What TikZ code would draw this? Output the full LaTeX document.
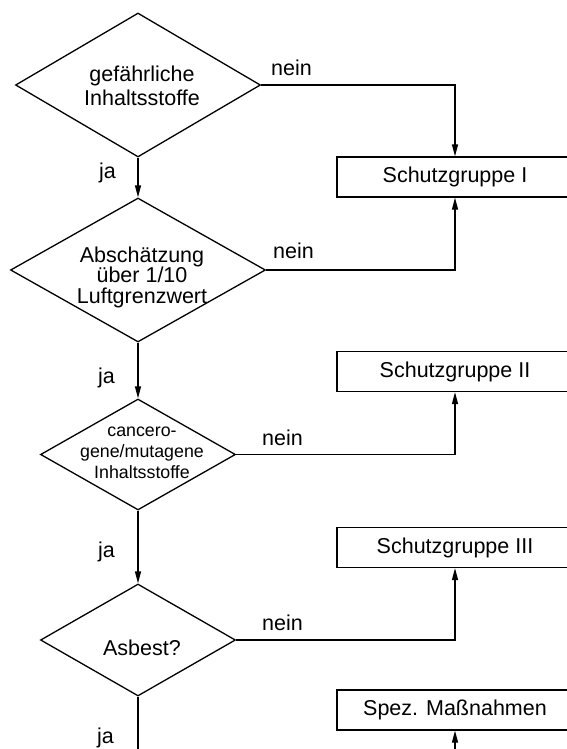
\documentclass[tikz,border=0pt]{standalone}
\usepackage{fontspec}
\setmainfont{Liberation Sans}
\usetikzlibrary{shapes.geometric,arrows.meta}
\begin{document}
\begin{tikzpicture}[x=1pt,y=-1pt,
  every node/.style={font=\fontsize{21.5}{24}\selectfont},
  dia/.style={draw,shape=diamond,inner sep=0pt,line width=1.3pt,line join=miter},
  dtext/.style={align=center,inner sep=0pt,xshift=4pt},
  sbox/.style={draw,rectangle,inner sep=0pt,minimum width=236pt,minimum height=40pt,line width=1.3pt},
  lbl/.style={anchor=base west,inner sep=0pt},
  con/.style={line width=1.3pt},
  arr/.style={con,-{Triangle[width=6pt,length=12pt]}}
]
\useasboundingbox (0,0) rectangle (566,749);
% decisions
\node[dia,minimum width=245pt,minimum height=144pt] (d1) at (138,85) {};
\node[dia,minimum width=255pt,minimum height=144pt] (d2) at (138,270) {};
\node[dia,minimum width=195pt,minimum height=111pt] (d3) at (138,454.5) {};
\node[dia,minimum width=195pt,minimum height=112pt] (d4) at (138,640) {};
\node[dtext,yshift=-1pt] (t1) at (d1.center) {gefährliche\\Inhaltsstoffe};
\node[dtext,yshift=-7pt,font=\fontsize{21.5}{20.5}\selectfont] (t2) at (d2.center) {Abschätzung\\über 1/10\\Luftgrenzwert};
\node[dtext,yshift=2pt,font=\fontsize{17.8}{21}\selectfont] (t3) at (d3.center) {cancero-\\gene/mutagene\\Inhaltsstoffe};
\node[dtext,yshift=-8pt] (t4) at (d4.center) {Asbest?};
% boxes
\node[sbox] (b1) at (455,177) {Schutzgruppe I};
\node[sbox] (b2) at (455,371.5) {Schutzgruppe II};
\node[sbox] (b3) at (455,547.5) {Schutzgruppe III};
\node[sbox] (b4) at (455,710) {Spez. Maßnahmen};
% free ends
\coordinate (e4) at (138,760);
\coordinate (e5) at (455,760);
% connectors
\draw[arr] (d1.south) -- (d2.north);
\draw[arr] (d2.south) -- (d3.north);
\draw[arr] (d3.south) -- (d4.north);
\draw[con] (d4.south) -- (e4);
\draw[arr] (d1.east) -| (b1.north);
\draw[arr] (d2.east) -| (b1.south);
\draw[arr] (d3.east) -| (b2.south);
\draw[arr] (d4.east) -| (b3.south);
\draw[arr] (e5) -- (b4.south);
% labels
\node[lbl] (n1) at (271,76) {nein};
\node[lbl] (n2) at (273,258) {nein};
\node[lbl] (n3) at (262,445) {nein};
\node[lbl] (n4) at (262,630) {nein};
\node[lbl] (j1) at (99,178) {ja};
\node[lbl] (j2) at (98,383) {ja};
\node[lbl] (j3) at (98,557) {ja};
\node[lbl] (j4) at (97,743) {ja};
\end{tikzpicture}
\end{document}
